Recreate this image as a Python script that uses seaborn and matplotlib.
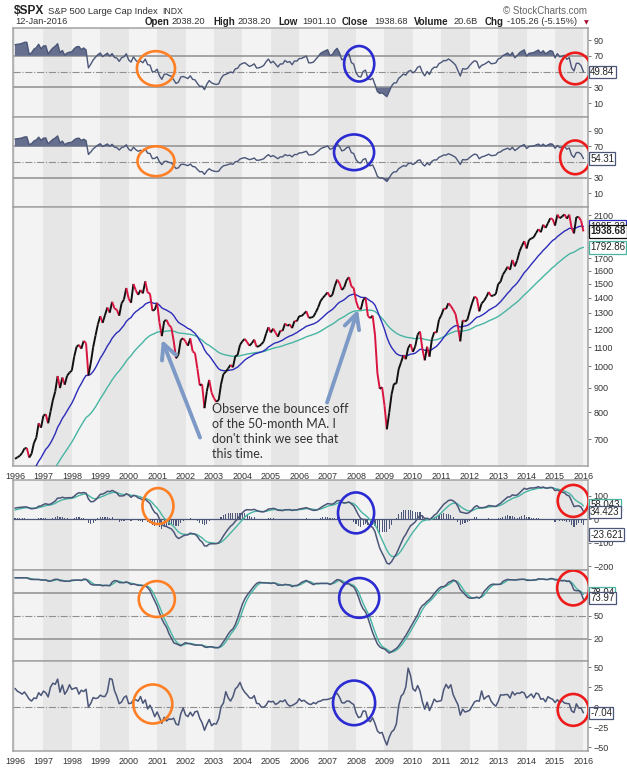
import numpy as np
import pandas as pd
import matplotlib
matplotlib.use('Agg')
import matplotlib.pyplot as plt
import seaborn as sns
from matplotlib.collections import LineCollection
from matplotlib.patches import Ellipse
from matplotlib.ticker import FixedLocator, FixedFormatter, NullLocator

sns.set_style('white')
plt.rcParams['font.family'] = ['Liberation Sans', 'DejaVu Sans']

# ---------------- data ----------------
# S&P 500 monthly closes, Jan 1988 .. Jan 2016 (1988-1995 only used as indicator warm-up)
first_year = 1988
closes = [
257.07, 267.82, 258.89, 261.33, 262.16, 273.50, 272.02, 261.52, 271.91, 278.97, 273.70, 277.72,
297.47, 288.86, 294.87, 309.64, 320.52, 317.98, 346.08, 351.45, 349.15, 340.36, 345.99, 353.40,
329.08, 331.89, 339.94, 330.80, 361.23, 358.02, 356.15, 322.56, 306.05, 304.00, 322.22, 330.22,
343.93, 367.07, 375.22, 375.34, 389.83, 371.16, 387.81, 395.43, 387.86, 392.46, 375.22, 417.09,
408.79, 412.70, 403.69, 414.95, 415.35, 408.14, 424.21, 414.03, 417.80, 418.68, 431.35, 435.71,
438.78, 443.38, 451.67, 440.19, 450.19, 450.53, 448.13, 463.56, 458.93, 467.83, 461.79, 466.45,
481.61, 467.14, 445.77, 450.91, 456.50, 444.27, 458.26, 475.49, 462.69, 472.35, 453.69, 459.27,
470.42, 487.39, 500.71, 514.71, 533.40, 544.75, 562.06, 561.88, 584.41, 581.50, 605.37, 615.93,
636.02, 640.43, 645.50, 654.17, 669.12, 670.63, 639.95, 651.99, 687.31, 705.27, 757.02, 740.74,
786.16, 790.82, 757.12, 801.34, 848.28, 885.14, 954.29, 899.47, 947.28, 914.62, 955.40, 970.43,
980.28, 1049.34, 1101.75, 1111.75, 1090.82, 1133.84, 1120.67, 957.28, 1017.01, 1098.67, 1163.63, 1229.23,
1279.64, 1238.33, 1286.37, 1335.18, 1301.84, 1372.71, 1328.72, 1320.41, 1282.71, 1362.93, 1388.91, 1469.25,
1394.46, 1366.42, 1498.58, 1452.43, 1420.60, 1454.60, 1430.83, 1517.68, 1436.51, 1429.40, 1314.95, 1320.28,
1366.01, 1239.94, 1160.33, 1249.46, 1255.82, 1224.38, 1211.23, 1133.58, 1040.94, 1059.78, 1139.45, 1148.08,
1130.20, 1106.73, 1147.39, 1076.92, 1067.14, 989.82, 911.62, 916.07, 815.28, 885.76, 936.31, 879.82,
855.70, 841.15, 848.18, 916.92, 963.59, 974.50, 990.31, 1008.01, 995.97, 1050.71, 1058.20, 1111.92,
1131.13, 1144.94, 1126.21, 1107.30, 1120.68, 1140.84, 1101.72, 1104.24, 1114.58, 1130.20, 1173.82, 1211.92,
1181.27, 1203.60, 1180.59, 1156.85, 1191.50, 1191.33, 1234.18, 1220.33, 1228.81, 1207.01, 1249.48, 1248.29,
1280.08, 1280.66, 1294.83, 1310.61, 1270.09, 1270.20, 1276.66, 1303.82, 1335.85, 1377.94, 1400.63, 1418.30,
1438.24, 1406.82, 1420.86, 1482.37, 1530.62, 1503.35, 1455.27, 1473.99, 1526.75, 1549.38, 1481.14, 1468.36,
1378.55, 1330.63, 1322.70, 1385.59, 1400.38, 1280.00, 1267.38, 1282.83, 1166.36, 968.75, 896.24, 903.25,
825.88, 735.09, 797.87, 872.81, 919.14, 919.32, 987.48, 1020.62, 1057.08, 1036.19, 1095.63, 1115.10,
1073.87, 1104.49, 1169.43, 1186.69, 1089.41, 1030.71, 1101.60, 1049.33, 1141.20, 1183.26, 1180.55, 1257.64,
1286.12, 1327.22, 1325.83, 1363.61, 1345.20, 1320.64, 1292.28, 1218.89, 1131.42, 1253.30, 1246.96, 1257.60,
1312.41, 1365.68, 1408.47, 1397.91, 1310.33, 1362.16, 1379.32, 1406.58, 1440.67, 1412.16, 1416.18, 1426.19,
1498.11, 1514.68, 1569.19, 1597.57, 1630.74, 1606.28, 1685.73, 1632.97, 1681.55, 1756.54, 1805.81, 1848.36,
1782.59, 1859.45, 1872.34, 1883.95, 1923.57, 1960.23, 1930.67, 2003.37, 1972.29, 2018.05, 2067.56, 2058.90,
1994.99, 2104.50, 2067.89, 2085.51, 2107.39, 2063.11, 2103.84, 1972.18, 1920.03, 2079.36, 2080.41, 2043.94,
1938.68]

years = list(range(1996, 2017))
price_ticks = [700, 800, 900, 1000, 1100, 1200, 1300, 1400, 1500, 1600, 1700, 1800, 1900, 2000, 2100]
price_labels = ['700', '800', '900', '1000', '1100', '1200', '1300', '1400', '1500', '1600', '1700',
                '', '1900', '', '2100']          # 1800 / 2000 sit under the value tags
rsi_ticks = [10, 30, 50, 70, 90]
rsi_labels = ['10', '30', '', '70', '90']       # 50 sits under the value tag
macd_ticks = [100, 0, -100, -200]
sto_ticks = [20, 50, 80]
sto_labels = ['20', '50', '']                   # 80 sits under the value tag
roc_ticks = [50, 25, 0, -25, -50]

# indicator settings (as on the chart)
rsi_fast_n, rsi_slow_n = 14, 21
ema_fast_n, ema_slow_n = 20, 50
macd_fast, macd_slow, macd_sig = 8, 20, 6
sto_n, sto_k, sto_d = 20, 10, 3
roc_n = 9

# last-value tags shown on the chart
tag_rsi1 = "49.84"
tag_rsi2 = "54.31"
tag_ema20 = "1985.33"
tag_close = "1938.68"
tag_ema50 = "1792.86"
tag_macd_sig = "58.043"
tag_macd = "34.423"
tag_hist = "-23.621"
tag_sto_d = "78.04"
tag_sto_k = "73.97"
tag_roc = "-7.04"

# ---------------- indicators ----------------
s = pd.Series(closes, dtype=float)
t = first_year + np.arange(len(s)) / 12.0

def rsi(series, n):
    d = series.diff()
    au = d.clip(lower=0).ewm(alpha=1 / n, adjust=False).mean()
    ad = (-d).clip(lower=0).ewm(alpha=1 / n, adjust=False).mean()
    return 100 - 100 / (1 + au / ad)

rsi1 = rsi(s, rsi_fast_n)
rsi2 = rsi(s, rsi_slow_n)
ema20 = s.ewm(span=ema_fast_n, adjust=False).mean()
ema50 = s.ewm(span=ema_slow_n, adjust=False).mean()
macd = s.ewm(span=macd_fast, adjust=False).mean() - s.ewm(span=macd_slow, adjust=False).mean()
macd_signal = macd.ewm(span=macd_sig, adjust=False).mean()
macd_hist = macd - macd_signal
lo = s.rolling(sto_n).min()
hi = s.rolling(sto_n).max()
sto_K = (100 * (s - lo) / (hi - lo)).rolling(sto_k).mean()
sto_D = sto_K.rolling(sto_d).mean()
roc = (s / s.shift(roc_n) - 1) * 100

m = t >= 1995.95
df = pd.DataFrame({'t': t[m], 'close': s[m].values, 'rsi1': rsi1[m].values, 'rsi2': rsi2[m].values,
                   'ema20': ema20[m].values, 'ema50': ema50[m].values, 'macd': macd[m].values,
                   'sig': macd_signal[m].values, 'hist': macd_hist[m].values,
                   'K': sto_K[m].values, 'D': sto_D[m].values, 'roc': roc[m].values})

# ---------------- styling ----------------
W, H = 627, 768
fig = plt.figure(figsize=(W / 100, H / 100), dpi=100)
fig.patch.set_facecolor('white')

L, R = 13, 588
def rect(top, bot):
    return [L / W, 1 - bot / H, (R - L) / W, (bot - top) / H]

ax1 = fig.add_axes(rect(27.5, 117))
ax2 = fig.add_axes(rect(117, 207))
ax3 = fig.add_axes(rect(207, 466))
ax4 = fig.add_axes(rect(480, 570))
ax5 = fig.add_axes(rect(570, 661))
ax6 = fig.add_axes(rect(661, 751))
axes = [ax1, ax2, ax3, ax4, ax5, ax6]

LIGHT, DARK = '#f3f3f3', '#e6e6e6'
IND = '#4b5678'
TEAL = '#48b5a3'
BLUE = '#2c2cba'
RED = '#d8143f'
GRID = '#8f8f8f'
XMIN, XMAX = 1995.93, 2016.16

for ax in axes:
    ax.set_xlim(XMIN, XMAX)
    for y in range(1995, 2017):
        ax.axvspan(y, y + 1, color=LIGHT if y % 2 == 0 else DARK, lw=0, zorder=0)
    for sp in ax.spines.values():
        sp.set_color('#a3a3a3')
        sp.set_linewidth(1.1)
    ax.yaxis.tick_right()
    ax.tick_params(axis='y', direction='out', length=2.5, width=0.7, pad=1.5,
                   labelsize=6.5, color='#777777', labelcolor='#333333')
    ax.xaxis.set_major_locator(FixedLocator(years))
    ax.set_xlabel('')
    ax.set_ylabel('')

for ax in (ax1, ax2, ax4, ax5):
    ax.tick_params(axis='x', length=0, labelbottom=False)
for ax in (ax3, ax6):
    ax.tick_params(axis='x', direction='out', length=3, width=0.7, pad=1,
                   labelsize=6.5, color='#777777', labelcolor='#333333')
    ax.xaxis.set_major_formatter(FixedFormatter([str(y) for y in years]))

def tag(ax, y, txt, ec, bold=False):
    ax.annotate(txt, xy=(1, y), xycoords=ax.get_yaxis_transform(), xytext=(1.5, 0),
                textcoords='offset points', ha='left', va='center', fontsize=7,
                fontweight='bold' if bold else 'normal', color='#222222',
                bbox=dict(boxstyle='square,pad=0.12', fc='white', ec=ec, lw=0.9),
                annotation_clip=False, zorder=20)

def ring(ax, x, y, w, h, color):
    ax.add_patch(Ellipse((x, y), w, h, fill=False, ec=color, lw=1.9, zorder=15))

ORANGE, CBLUE, CRED = '#ff7f24', '#2b2bd2', '#ee1b1b'

# ---------------- RSI panels ----------------
for ax, col, lab, ylim in ((ax1, 'rsi1', tag_rsi1, (-7.5, 106)), (ax2, 'rsi2', tag_rsi2, (-8, 108))):
    ax.set_ylim(*ylim)
    ax.axhline(70, color=GRID, lw=1.1, zorder=1)
    ax.axhline(30, color=GRID, lw=1.1, zorder=1)
    ax.axhline(50, color=GRID, lw=0.8, ls='-.', zorder=1)
    ax.fill_between(df['t'], 70, df[col], where=df[col] > 70, interpolate=True,
                    color='#66708e', lw=0, zorder=2)
    ax.fill_between(df['t'], df[col], 30, where=df[col] < 30, interpolate=True,
                    color='#66708e', lw=0, zorder=2)
    sns.lineplot(x=df['t'], y=df[col], ax=ax, color=IND, lw=1.0, zorder=3)
    ax.yaxis.set_major_locator(FixedLocator(rsi_ticks))
    ax.yaxis.set_major_formatter(FixedFormatter(rsi_labels))
    ax.set_xlabel(''); ax.set_ylabel('')
    tag(ax, df[col].iloc[-1], lab, IND)

ring(ax1, 2000.96, 54, 1.34, 44, ORANGE)
ring(ax1, 2008.11, 60, 1.06, 45, CBLUE)
ring(ax1, 2015.71, 54, 1.09, 40, CRED)
ring(ax2, 2000.96, 51, 1.30, 38.5, ORANGE)
ring(ax2, 2007.93, 62.5, 1.41, 46, CBLUE)
ring(ax2, 2015.71, 56, 1.06, 43.5, CRED)

# ---------------- price panel ----------------
ax3.set_yscale('log')
ax3.set_ylim(614, 2185)
ax3.yaxis.set_major_locator(FixedLocator(price_ticks))
ax3.yaxis.set_major_formatter(FixedFormatter(price_labels))
ax3.yaxis.set_minor_locator(NullLocator())
sns.lineplot(x=df['t'], y=df['ema50'], ax=ax3, color=TEAL, lw=1.0, zorder=3)
sns.lineplot(x=df['t'], y=df['ema20'], ax=ax3, color=BLUE, lw=1.0, zorder=3)
pts = np.column_stack([df['t'].values, df['close'].values])
segs = np.stack([pts[:-1], pts[1:]], axis=1)
cols = [RED if b < a else '#111111' for a, b in zip(df['close'].values[:-1], df['close'].values[1:])]
ax3.add_collection(LineCollection(segs, colors=cols, linewidths=1.4, zorder=4))
ax3.set_xlabel(''); ax3.set_ylabel('')
tag(ax3, df['ema20'].iloc[-1], tag_ema20, BLUE)
tag(ax3, df['close'].iloc[-1], tag_close, '#111111', bold=True)
tag(ax3, df['ema50'].iloc[-1], tag_ema50, TEAL)

note = "Observe the bounces off\nof the 50-month MA. I\ndon't think we see that\nthis time."
ax3.text(0.346, 0.245, note, transform=ax3.transAxes, ha='left', va='top', fontsize=9,
         family=['Lato', 'DejaVu Sans'], color='#333333', linespacing=1.3, zorder=10)
ARROW = '#7d99c6'
for tail, head in (((2002.51, 706), (2001.17, 1140)), ((2006.98, 838), (2008.07, 1322))):
    ax3.annotate('', xy=head, xytext=tail, xycoords='data', textcoords='data',
                 arrowprops=dict(arrowstyle='->,head_length=0.9,head_width=0.45', lw=2.8,
                                 color=ARROW, shrinkA=0, shrinkB=0, mutation_scale=12),
                 zorder=12)

# ---------------- MACD panel ----------------
ax4.set_ylim(-215, 168)
ax4.bar(df['t'], df['hist'], width=0.04, color=IND, lw=0, zorder=2)
ax4.axhline(0, color=IND, lw=0.9, zorder=2)
sns.lineplot(x=df['t'], y=df['sig'], ax=ax4, color=TEAL, lw=1.0, zorder=3)
sns.lineplot(x=df['t'], y=df['macd'], ax=ax4, color=IND, lw=1.1, zorder=4)
ax4.yaxis.set_major_locator(FixedLocator(macd_ticks))
ax4.set_xlabel(''); ax4.set_ylabel('')
tag(ax4, 62, tag_macd_sig, TEAL)
tag(ax4, 33, tag_macd, IND)
tag(ax4, -64, tag_hist, IND)
ring(ax4, 2001.03, 57, 1.09, 153, ORANGE)
ring(ax4, 2008.0, 28, 1.27, 174, CBLUE)
ring(ax4, 2015.64, 79, 1.09, 136, CRED)

# ---------------- stochastic panel ----------------
ax5.set_ylim(-9, 110)
ax5.axhline(80, color=GRID, lw=1.1, zorder=1)
ax5.axhline(20, color=GRID, lw=1.1, zorder=1)
ax5.axhline(50, color=GRID, lw=0.8, ls='-.', zorder=1)
sns.lineplot(x=df['t'], y=df['D'], ax=ax5, color=TEAL, lw=1.0, zorder=3)
sns.lineplot(x=df['t'], y=df['K'], ax=ax5, color=IND, lw=1.1, zorder=4)
ax5.yaxis.set_major_locator(FixedLocator(sto_ticks))
ax5.yaxis.set_major_formatter(FixedFormatter(sto_labels))
ax5.set_xlabel(''); ax5.set_ylabel('')
tag(ax5, 79.5, tag_sto_d, TEAL)
tag(ax5, 73, tag_sto_k, IND)
ring(ax5, 2000.99, 72, 1.27, 47, ORANGE)
ring(ax5, 2008.11, 73.5, 1.41, 52, CBLUE)
ring(ax5, 2015.64, 86.5, 1.13, 45.6, CRED)

# ---------------- ROC panel ----------------
ax6.set_ylim(-55, 58)
ax6.axhline(0, color=GRID, lw=0.8, ls='-.', zorder=1)
sns.lineplot(x=df['t'], y=df['roc'], ax=ax6, color=IND, lw=1.1, zorder=3)
ax6.yaxis.set_major_locator(FixedLocator(roc_ticks))
ax6.set_xlabel(''); ax6.set_ylabel('')
tag(ax6, df['roc'].iloc[-1], tag_roc, IND)
ring(ax6, 2000.85, 4, 1.37, 49, ORANGE)
ring(ax6, 2007.93, 5.4, 1.48, 56, CBLUE)
ring(ax6, 2015.64, -3.4, 1.09, 40, CRED)

for ax in axes:
    ax.set_xlim(XMIN, XMAX)

# ---------------- header ----------------
def ftext(x, y, txt, **kw):
    kw.setdefault('va', 'center')
    kw.setdefault('color', '#222222')
    fig.text(x / W, 1 - y / H, txt, **kw)

ftext(14, 10.5, "$SPX", fontsize=8.6, fontweight='bold')
ftext(48, 11, "S&P 500 Large Cap Index", fontsize=6.8, color='#333333')
ftext(162, 11, "INDX", fontsize=6.2, color='#333333')
ftext(15, 22, "12-Jan-2016", fontsize=6.7, color='#333333')
info = [("Open", 145, True), ("2038.20", 172, False), ("High", 213, True), ("2038.20", 238, False),
        ("Low", 278, True), ("1901.10", 302, False), ("Close", 342, True), ("1938.68", 374, False),
        ("Volume", 414, True), ("20.6B", 454, False), ("Chg", 485, True), ("-105.26 (-5.15%)", 507, False)]
for txt, x, b in info:
    ftext(x, 22, txt, fontsize=7 if b else 6.7, fontweight='bold' if b else 'normal',
          color='#222222' if b else '#333333')
ftext(584, 22.5, "\u25bc", fontsize=4.5, color='#a8102f', family='DejaVu Sans')
ftext(587, 10.5, "\u00a9 StockCharts.com", fontsize=7, color='#666666', ha='right')

fig.savefig('out.png', dpi=100, facecolor='white')
